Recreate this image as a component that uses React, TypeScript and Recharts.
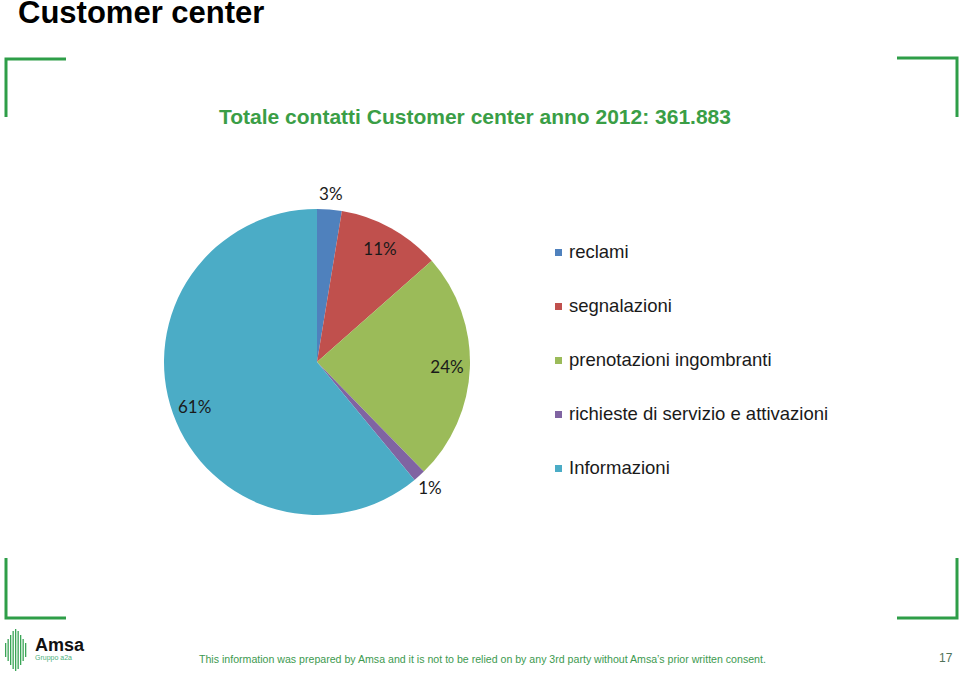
import { Cell, Legend, Pie, PieChart } from 'recharts';

const categories = [
  'reclami',
  'segnalazioni',
  'prenotazioni ingombranti',
  'richieste di servizio e attivazioni',
  'Informazioni',
];
const shares = [2.6, 10.9, 24.2, 1.3, 61.0];
const colors = ['#4F81BD', '#C0504D', '#9BBB59', '#8064A2', '#4BACC6'];

const title = 'Customer center';
const subtitle = 'Totale contatti Customer center anno 2012: 361.883';
const footer =
  'This information was prepared by Amsa and it is not to be relied on by any 3rd party without Amsa\u2019s prior written consent.';
const pageNumber = '17';

const data = categories.map((name, i) => ({ name, value: shares[i], color: colors[i] }));

const GREEN = '#3a9e46';
const RAD = Math.PI / 180;
const R = 153;

const renderLabel = (props: any) => {
  const { cx, cy, midAngle, percent } = props;
  const r = percent < 0.05 ? R + 16 : R * 0.85;
  const x = cx + r * Math.cos(-midAngle * RAD);
  const y = cy + r * Math.sin(-midAngle * RAD);
  return (
    <text
      x={x}
      y={y}
      textAnchor="middle"
      dominantBaseline="central"
      fill="#1a1a1a"
      style={{ fontFamily: 'Lato, sans-serif', fontSize: 17 }}
    >
      {`${Math.round(percent * 100)}%`}
    </text>
  );
};

const LegendList = () => (
  <div style={{ fontFamily: '"Liberation Sans", Arial, sans-serif', fontSize: 18.5, color: '#1a1a1a' }}>
    {data.map((entry) => (
      <div key={entry.name} style={{ display: 'flex', alignItems: 'center', height: 54, whiteSpace: 'nowrap' }}>
        <span style={{ width: 7, height: 7, background: entry.color, marginRight: 7 }} />
        <span>{entry.name}</span>
      </div>
    ))}
  </div>
);

const Logo = () => {
  const stripes = [14, 22, 30, 38, 42, 38, 30, 22, 14];
  return (
    <svg width={90} height={50} style={{ position: 'absolute', left: 0, top: 624 }}>
      {stripes.map((h, i) => (
        <rect key={i} x={5 + i * 2.5} y={24 - h / 2 + 2} width={1.3} height={h} fill="#3aa556" />
      ))}
      <text x={35} y={27} style={{ fontFamily: '"Liberation Sans", Arial', fontWeight: 700, fontSize: 18 }} fill="#111">
        Amsa
      </text>
      <text x={35} y={36} style={{ fontFamily: '"Liberation Sans", Arial', fontSize: 7 }} fill="#4caf7a">
        Gruppo a2a
      </text>
    </svg>
  );
};

export default function App() {
  return (
    <div style={{ position: 'absolute', left: 0, top: 0, width: 959, height: 674, background: '#fff', overflow: 'hidden' }}>
      <div
        style={{
          position: 'absolute',
          left: 18,
          top: 2,
          fontFamily: '"Liberation Sans", Arial, sans-serif',
          fontWeight: 700,
          fontSize: 31,
          lineHeight: '22px',
          color: '#000',
          whiteSpace: 'nowrap',
        }}
      >
        {title}
      </div>

      <svg width={959} height={674} style={{ position: 'absolute', left: 0, top: 0 }}>
        <path d="M66 59 L6 59 L6 117" stroke="#2e9e48" strokeWidth={3} fill="none" />
        <path d="M897 58 L957 58 L957 117" stroke="#2e9e48" strokeWidth={3} fill="none" />
        <path d="M6 558 L6 618 L66 618" stroke="#2e9e48" strokeWidth={3} fill="none" />
        <path d="M957 558 L957 618 L897 618" stroke="#2e9e48" strokeWidth={3} fill="none" />
      </svg>

      <div
        style={{
          position: 'absolute',
          left: 219,
          top: 104,
          fontFamily: '"Liberation Sans", Arial, sans-serif',
          fontWeight: 700,
          fontSize: 21,
          lineHeight: '26px',
          color: GREEN,
          whiteSpace: 'nowrap',
        }}
      >
        {subtitle}
      </div>

      <div style={{ position: 'absolute', left: 0, top: 0 }}>
        <PieChart width={959} height={674}>
          <Pie
            data={data}
            dataKey="value"
            nameKey="name"
            cx={312}
            cy={357}
            outerRadius={R}
            startAngle={90}
            endAngle={-270}
            stroke="none"
            label={renderLabel}
            labelLine={false}
            isAnimationActive={false}
          >
            {data.map((entry) => (
              <Cell key={entry.name} fill={entry.color} />
            ))}
          </Pie>
          <Legend
            content={<LegendList />}
            wrapperStyle={{ position: 'absolute', left: 555, top: 225, width: 320, bottom: 'auto', right: 'auto' }}
          />
        </PieChart>
      </div>

      <Logo />

      <div
        style={{
          position: 'absolute',
          left: 199,
          top: 652,
          fontFamily: '"Liberation Sans", Arial, sans-serif',
          fontSize: 10.6,
          lineHeight: '14px',
          color: '#3d9a4f',
          whiteSpace: 'nowrap',
        }}
      >
        {footer}
      </div>
      <div
        style={{
          position: 'absolute',
          left: 939,
          top: 650,
          fontFamily: '"Liberation Sans", Arial, sans-serif',
          fontSize: 12,
          lineHeight: '16px',
          color: '#4f7359',
        }}
      >
        {pageNumber}
      </div>
    </div>
  );
}
